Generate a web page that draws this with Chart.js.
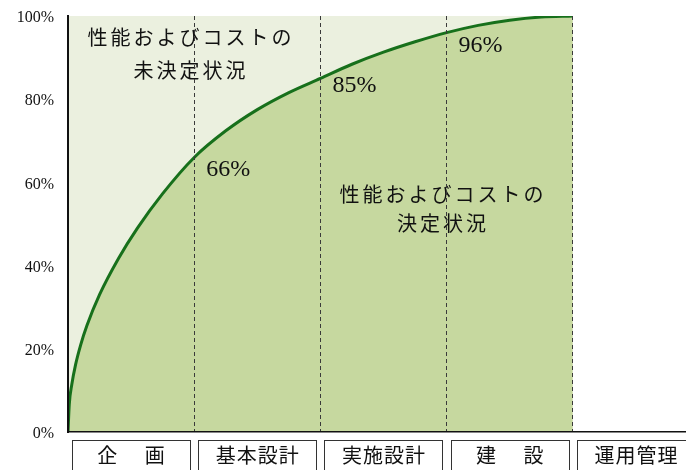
<!DOCTYPE html>
<html lang="ja">
<head>
<meta charset="utf-8">
<script src="https://cdn.jsdelivr.net/npm/chart.js@4/dist/chart.umd.min.js"></script>
<style>
  html, body { margin: 0; padding: 0; background: #ffffff; overflow: hidden; }
  #wrap { width: 720px; height: 470px; }
</style>
</head>
<body>
<div id="wrap"><canvas id="c" width="720" height="470"></canvas></div>
<script>
// Project phases along the horizontal axis
const phases = ['企 　画', '基本設計', '実施設計', '建 　設', '運用管理'];

// Cumulative share of performance/cost decided (%) across the phases
const progressX = [0, 0.01, 0.03, 0.06, 0.1, 0.15, 0.25, 0.4, 0.55, 0.75, 1, 1.25, 1.5, 1.75, 2, 2.25, 2.5, 2.75, 3, 3.25, 3.5, 3.75, 4];
const progressY = [0, 6.6, 11.4, 16.2, 20.9, 25.6, 33, 41.7, 49, 57.3, 66, 72.4, 77.5, 81.6, 85, 88.4, 91.3, 93.8, 96, 97.75, 99, 99.75, 100];

// Values called out at the end of each phase
const markPhase = [1, 2, 3];
const markValue = [66, 85, 96];

// Vertical axis ticks
const yTicks = [0, 20, 40, 60, 80, 100];

const curve = progressX.map((x, i) => ({ x: x, y: progressY[i] }));
const ceiling = [{ x: progressX[0], y: 100 }, { x: progressX[progressX.length - 1], y: 100 }];

const overlay = {
  id: 'overlay',
  afterDatasetsDraw(chart) {
    const { ctx } = chart;
    const xs = chart.scales.x, ys = chart.scales.y;
    ctx.save();
    ctx.fillStyle = '#111111';

    // region captions
    ctx.font = '20px "Noto Sans CJK JP"';
    ctx.textAlign = 'center';
    ctx.textBaseline = 'middle';
    ctx.letterSpacing = '3px';
    ctx.fillText('性能およびコストの', 191, 37);
    ctx.fillText('未決定状況', 191, 70);
    ctx.fillText('性能およびコストの', 443, 194);
    ctx.fillText('決定状況', 443, 223);

    // phase-end values, nudged below the curve
    const labelDy = [12, 7, 13];
    ctx.letterSpacing = '0px';
    ctx.font = '24px "Liberation Serif"';
    ctx.textAlign = 'left';
    markPhase.forEach((p, i) => {
      const px = xs.getPixelForValue(p);
      const py = ys.getPixelForValue(markValue[i]);
      ctx.fillText(markValue[i] + '%', px + 12, py + labelDy[i]);
    });

    // phase boxes under the axis
    ctx.font = '20px "Noto Sans CJK JP"';
    ctx.letterSpacing = '1px';
    ctx.textAlign = 'center';
    ctx.strokeStyle = '#333333';
    ctx.lineWidth = 1;
    phases.forEach((name, i) => {
      const l = xs.getPixelForValue(i) + 4;
      const r = xs.getPixelForValue(i + 1) - 4;
      ctx.strokeRect(Math.round(l) + 0.5, 440.5, Math.round(r - l), 40);
      ctx.fillText(name, (l + r) / 2 + 0.5, 455);
    });
    ctx.restore();
  }
};

new Chart(document.getElementById('c'), {
  type: 'line',
  data: {
    datasets: [
      {
        label: 'undecided',
        data: ceiling,
        fill: 'origin',
        backgroundColor: '#ebf0df',
        borderWidth: 0,
        pointRadius: 0,
        order: 2
      },
      {
        label: 'decided',
        data: curve,
        fill: 'origin',
        backgroundColor: '#c6d89f',
        borderColor: '#17701b',
        borderWidth: 3,
        cubicInterpolationMode: 'monotone',
        pointRadius: 0,
        order: 1
      }
    ]
  },
  options: {
    responsive: false,
    animation: false,
    events: [],
    layout: { padding: { top: 16, right: 21, left: 0, bottom: 0 } },
    plugins: { legend: { display: false }, tooltip: { enabled: false } },
    scales: {
      x: {
        type: 'linear',
        min: 0,
        max: phases.length,
        afterFit(scale) { scale.height = 38; scale.paddingLeft = 0; scale.paddingRight = 0; },
        ticks: { display: false, stepSize: 1 },
        grid: {
          z: 1,
          drawTicks: false,
          lineWidth: 1,
          color: (c) => (c.tick && c.tick.value > 0 && c.tick.value < phases.length) ? '#3a3a3a' : 'rgba(0,0,0,0)'
        },
        border: { display: true, color: '#111111', width: 1.5, dash: [4, 3], z: 1 }
      },
      y: {
        min: 0,
        max: 100,
        afterFit(scale) { scale.width = 68; scale.paddingTop = 0; scale.paddingBottom = 0; },
        afterBuildTicks(scale) { scale.ticks = yTicks.map(v => ({ value: v })); },
        ticks: {
          padding: 14,
          labelOffset: 2,
          color: '#111111',
          font: { family: '"Liberation Serif"', size: 16 },
          callback: (v) => v + '%'
        },
        grid: { display: false, drawTicks: false },
        border: { display: true, color: '#111111', width: 2, z: 1 }
      }
    }
  },
  plugins: [overlay]
});
</script>
</body>
</html>
